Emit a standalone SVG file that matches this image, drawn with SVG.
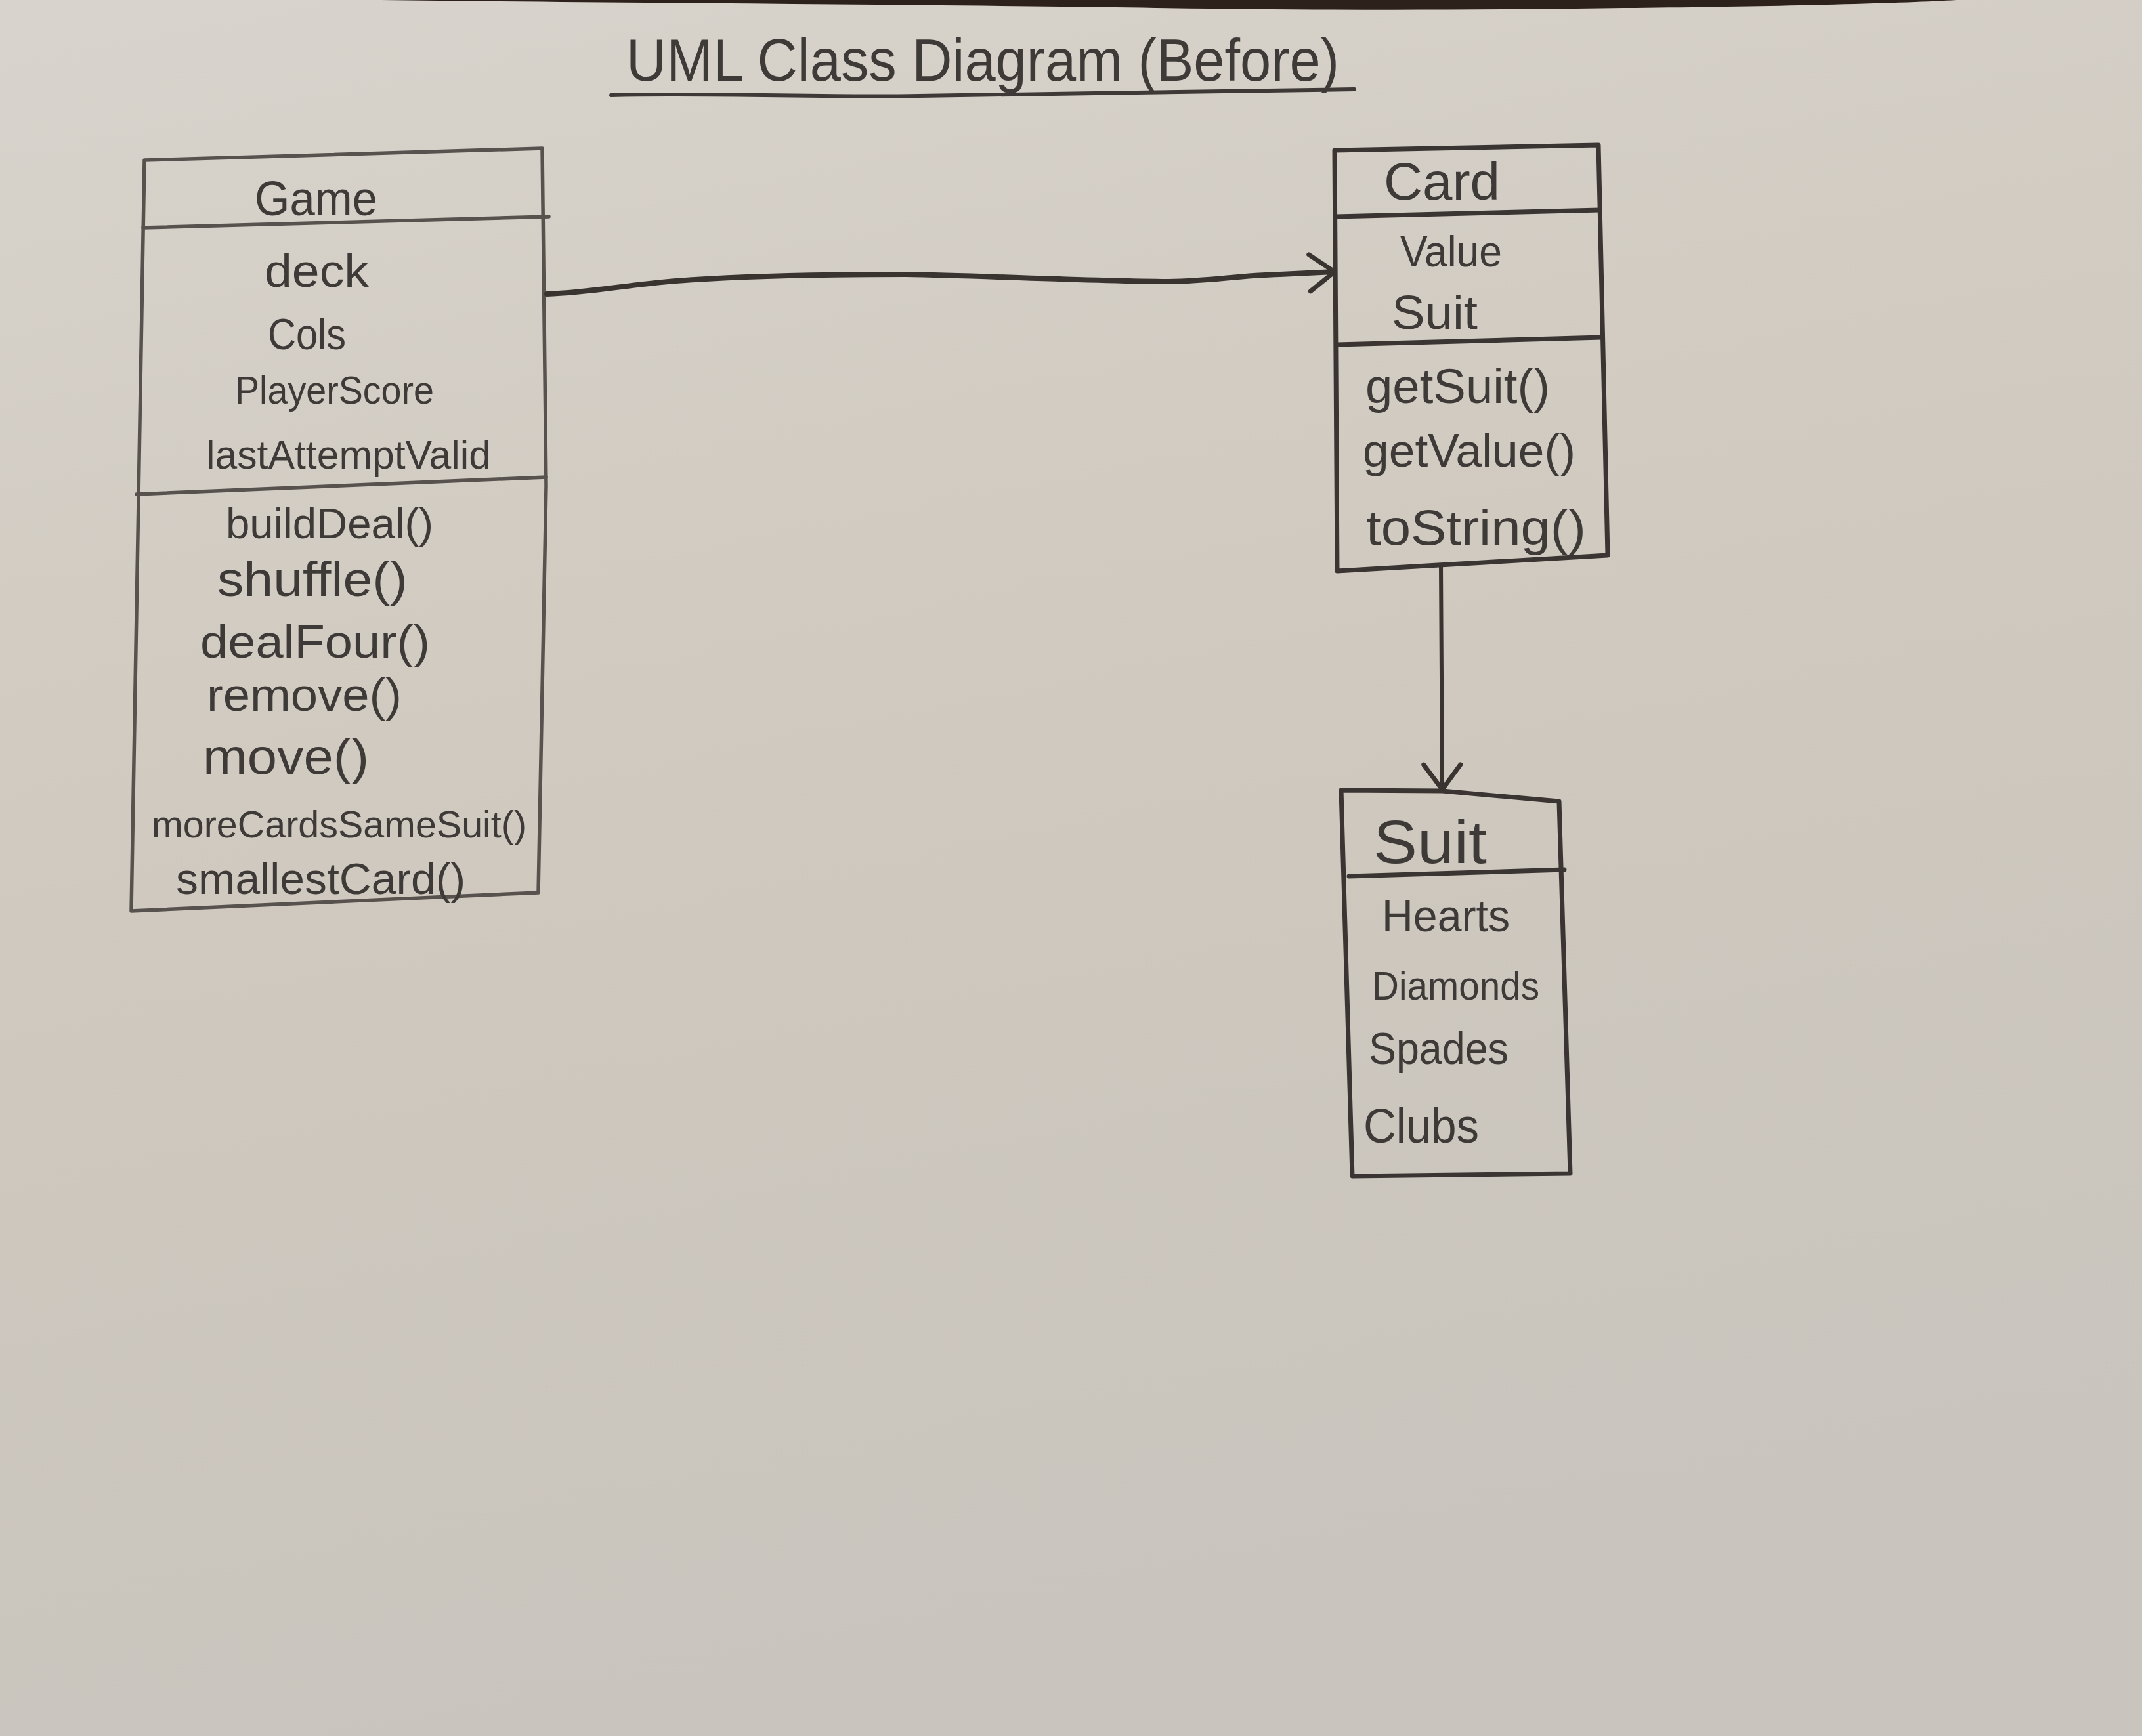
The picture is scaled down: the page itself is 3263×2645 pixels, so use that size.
<svg xmlns="http://www.w3.org/2000/svg" width="3263" height="2645" viewBox="0 0 3263 2645">
<defs>
<linearGradient id="paper" x1="0" y1="0" x2="0.25" y2="1">
<stop offset="0" stop-color="#d8d3cc"/>
<stop offset="0.5" stop-color="#cfc9bf"/>
<stop offset="1" stop-color="#c9c4bd"/>
</linearGradient>
<marker id="openArrow" markerUnits="userSpaceOnUse" markerWidth="50" markerHeight="64" refX="42" refY="32" orient="auto" viewBox="0 0 50 64">
<path d="M4,4 L42,32 L4,60" fill="none" stroke="#3a3431" stroke-width="7" stroke-linecap="round" stroke-linejoin="round"/>
</marker>
<style>
.box{fill:none;stroke:#4a4542;stroke-width:6;stroke-linejoin:round;stroke-linecap:round}
.dark{stroke:#3a3532;stroke-width:7}
.light{stroke:#57524e;stroke-width:5.5}
.t{font-family:"Liberation Sans",Arial,sans-serif;fill:#3e3a37}
.conn{fill:none;stroke:#3a3431;stroke-linecap:round;stroke-linejoin:round}
</style>
</defs>
<rect x="0" y="0" width="3263" height="2645" fill="url(#paper)"/>
<path d="M580,0 L2980,0 C2900,5 2700,10 2400,13 C2150,16 1950,15 1700,11 C1400,7 900,4 580,0 Z" fill="#2c211b"/>

<g id="title">
<text class="t" x="954" y="123" font-size="90" textLength="1086" lengthAdjust="spacingAndGlyphs">UML Class Diagram (Before)</text>
<path d="M931,145 C1100,141 1250,149 1400,146 C1600,143 1800,140 2063,136" class="box" style="stroke:#3e3936;stroke-width:6"/>
</g>

<g id="game">
<path class="box light" d="M220,244 L826,226 L832,740 L820,1360 L200,1388 Z"/>
<path class="box light" d="M218,347 L836,330"/>
<path class="box light" d="M208,753 L832,727"/>
<text class="t" x="388" y="328" font-size="74" textLength="187" lengthAdjust="spacingAndGlyphs">Game</text>
<text class="t" x="403" y="437" font-size="70" textLength="159" lengthAdjust="spacingAndGlyphs">deck</text>
<text class="t" x="408" y="532" font-size="66" textLength="119" lengthAdjust="spacingAndGlyphs">Cols</text>
<text class="t" x="358" y="615" font-size="60" textLength="303" lengthAdjust="spacingAndGlyphs">PlayerScore</text>
<text class="t" x="314" y="714" font-size="62" textLength="434" lengthAdjust="spacingAndGlyphs">lastAttemptValid</text>
<text class="t" x="344" y="820" font-size="64" textLength="316" lengthAdjust="spacingAndGlyphs">buildDeal()</text>
<text class="t" x="331" y="908" font-size="74" textLength="290" lengthAdjust="spacingAndGlyphs">shuffle()</text>
<text class="t" x="305" y="1002" font-size="71" textLength="350" lengthAdjust="spacingAndGlyphs">dealFour()</text>
<text class="t" x="315" y="1083" font-size="70" textLength="297" lengthAdjust="spacingAndGlyphs">remove()</text>
<text class="t" x="309" y="1179" font-size="76" textLength="253" lengthAdjust="spacingAndGlyphs">move()</text>
<text class="t" x="231" y="1276" font-size="57" textLength="571" lengthAdjust="spacingAndGlyphs">moreCardsSameSuit()</text>
<text class="t" x="268" y="1362" font-size="66" textLength="441" lengthAdjust="spacingAndGlyphs">smallestCard()</text>
</g>

<g id="card">
<path class="box dark" d="M2033,229 L2435,221 L2449,846 L2037,870 Z"/>
<path class="box dark" d="M2035,330 L2437,320"/>
<path class="box dark" d="M2037,525 L2440,514"/>
<text class="t" x="2108" y="304" font-size="80" textLength="177" lengthAdjust="spacingAndGlyphs">Card</text>
<text class="t" x="2133" y="406" font-size="66" textLength="155" lengthAdjust="spacingAndGlyphs">Value</text>
<text class="t" x="2120" y="501" font-size="72" textLength="131" lengthAdjust="spacingAndGlyphs">Suit</text>
<text class="t" x="2080" y="614" font-size="74" textLength="281" lengthAdjust="spacingAndGlyphs">getSuit()</text>
<text class="t" x="2076" y="711" font-size="70" textLength="324" lengthAdjust="spacingAndGlyphs">getValue()</text>
<text class="t" x="2081" y="830" font-size="76" textLength="335" lengthAdjust="spacingAndGlyphs">toString()</text>
</g>

<g id="suit">
<path class="box dark" d="M2043,1204 L2197,1205 L2375,1221 L2392,1788 L2060,1792 Z"/>
<path class="box dark" d="M2055,1335 L2383,1325"/>
<text class="t" x="2092" y="1315" font-size="92" textLength="173" lengthAdjust="spacingAndGlyphs">Suit</text>
<text class="t" x="2105" y="1419" font-size="68" textLength="195" lengthAdjust="spacingAndGlyphs">Hearts</text>
<text class="t" x="2090" y="1523" font-size="62" textLength="255" lengthAdjust="spacingAndGlyphs">Diamonds</text>
<text class="t" x="2085" y="1621" font-size="68" textLength="213" lengthAdjust="spacingAndGlyphs">Spades</text>
<text class="t" x="2077" y="1741" font-size="74" textLength="176" lengthAdjust="spacingAndGlyphs">Clubs</text>
</g>

<g id="connectors">
<path class="conn" stroke-width="8" marker-end="url(#openArrow)" d="M833,448 C900,446 960,433 1030,428 C1130,420 1250,418 1380,418 C1500,420 1650,428 1780,429 C1850,428 1880,420 1950,418 L2033,414"/>
<path class="conn" stroke-width="6" marker-end="url(#openArrow)" d="M2195,862 L2197,1203"/>
</g>
</svg>
